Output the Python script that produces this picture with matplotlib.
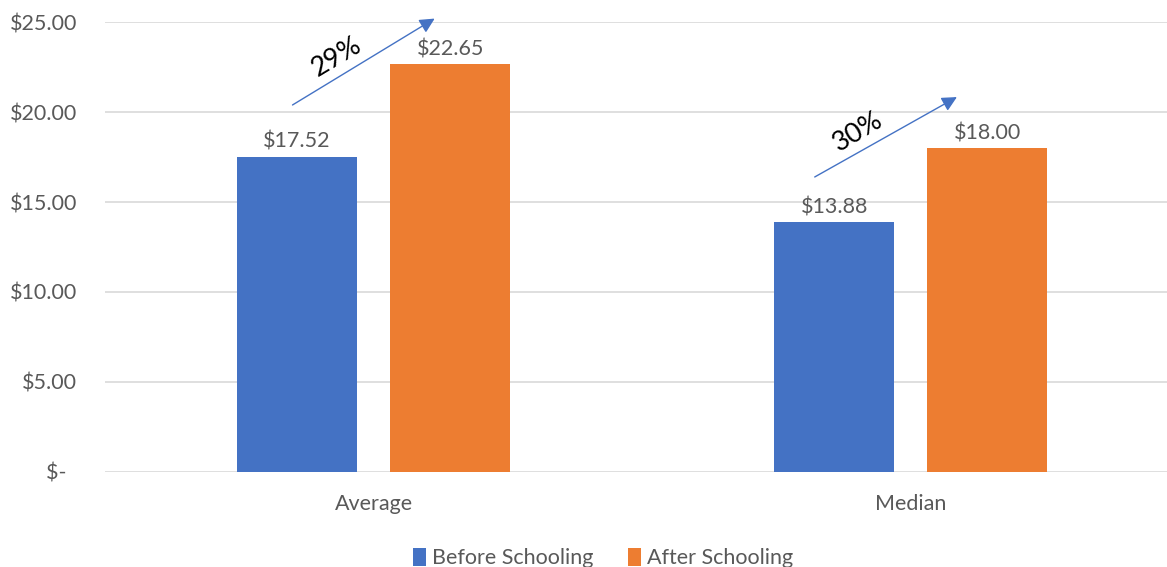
import matplotlib.pyplot as plt
import numpy as np

plt.rcParams['font.family'] = ['Lato', 'DejaVu Sans']

# data
categories = ["Average", "Median"]
before = [17.52, 13.88]
after = [22.65, 18.00]
series_names = ["Before Schooling", "After Schooling"]
pct_labels = ["29%", "30%"]
y_ticks = [0, 5, 10, 15, 20, 25]
y_tick_labels = ["$-  ", "$5.00", "$10.00", "$15.00", "$20.00", "$25.00"]

blue = "#4472C4"
orange = "#ED7D31"
grey = "#595959"
fs = 15.5

fig = plt.figure(figsize=(11.67, 5.67), dpi=100)
ax = fig.add_axes([105 / 1167, 95 / 567, 1 - 105 / 1167, (472 - 22) / 567])

x = np.arange(len(categories))
w = 0.2235
off = 0.1425
b1 = ax.bar(x - off, before, w, color=blue, label=series_names[0], zorder=2)
b2 = ax.bar(x + off, after, w, color=orange, label=series_names[1], zorder=2)

# value labels
for bars, vals in [(b1, before), (b2, after)]:
    for rect, v in zip(bars, vals):
        ax.annotate(f"${v:.2f}", (rect.get_x() + rect.get_width() / 2, v),
                    xytext=(0, 3.5), textcoords="offset points",
                    ha="center", va="bottom", fontsize=fs, color=grey)

# growth arrows (start / end in data units)
arrows = [((-0.151, 20.39), (0.1136, 25.19)), ((0.821, 16.39), (1.0857, 20.83))]
pct_pos = [(-0.069, 23.06), (0.901, 18.89)]
for (s, e), lab, p in zip(arrows, pct_labels, pct_pos):
    ax.annotate("", xy=e, xytext=s, annotation_clip=False,
                arrowprops=dict(arrowstyle="-|>,head_length=0.9,head_width=0.45",
                                color=blue, lw=1.0, shrinkA=0, shrinkB=0))
    ax.text(p[0], p[1], lab, rotation=31, ha="center", va="center",
            fontsize=19.5, color="black", rotation_mode="anchor", clip_on=False)

ax.set_xlim(-0.5, (1167 - 374) / 537)
ax.set_ylim(0, 25)
ax.set_yticks(y_ticks)
ax.set_yticklabels(y_tick_labels)
ax.set_xticks(x)
ax.set_xticklabels(categories)
ax.tick_params(axis="both", length=0, labelsize=fs, labelcolor=grey)
ax.tick_params(axis="x", pad=16)
ax.tick_params(axis="y", pad=20)
ax.grid(axis="y", color="#D9D9D9", lw=1.2, zorder=0)
ax.set_axisbelow(True)
for sp in ax.spines.values():
    sp.set_visible(False)

fig.legend(loc="center", bbox_to_anchor=(603 / 1167, 1 - 558 / 567), ncol=2,
           frameon=False, fontsize=fs, handlelength=0.6, handleheight=0.9,
           handletextpad=0.3, columnspacing=1.6, labelcolor=grey)

fig.savefig("out.png", dpi=100)
